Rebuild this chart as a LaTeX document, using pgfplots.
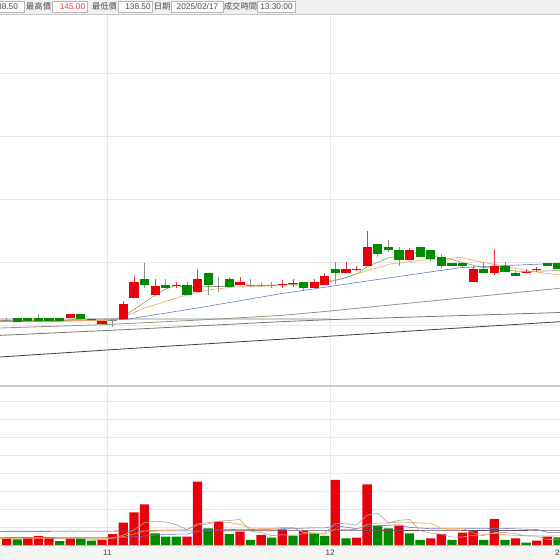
\documentclass[border=0pt]{standalone}
\usepackage{pgfplots}
\pgfplotsset{compat=1.18}
\usepackage{pgfplotstable}
\usepackage{fontspec}
\setmainfont{Liberation Sans}
\newfontfamily\cjk{Noto Sans CJK TC}
\definecolor{cred}{HTML}{E8000B}
\definecolor{cgreen}{HTML}{008A00}
\definecolor{gwick}{HTML}{7E9A7E}
\definecolor{gridc}{HTML}{E8E8E8}
\definecolor{ma5}{HTML}{7FA860}
\definecolor{ma10}{HTML}{F2A25A}
\definecolor{ma20}{HTML}{5B7FD0}
\definecolor{ma60}{HTML}{8C9A78}
\definecolor{ma120}{HTML}{767676}
\definecolor{ma240}{HTML}{3F3F3F}
\definecolor{vma5}{HTML}{A8A8A8}
\definecolor{vma10}{HTML}{F0A040}
\definecolor{vma20}{HTML}{6A7FD0}
\definecolor{vma60}{HTML}{7A4A5A}

% candles: k, body low, body height, wick low, wick length
\pgfplotstableread{
k lo h wl wh
5 101.06 0.64 101.06 0.64
8 100.21 0.42 100.21 0.42
10 100.90 2.39 100.90 2.96
11 104.24 2.63 104.24 3.59
13 104.76 1.48 104.76 2.49
15 106.22 0.12 105.92 0.86
17 105.29 1.96 105.29 3.61
21 106.27 0.55 106.27 1.35
25 106.41 0.12 105.83 1.31
26 106.57 0.12 106.08 1.22
28 105.83 0.95 105.83 1.47
29 106.35 1.48 106.35 1.86
31 108.30 0.54 108.30 1.65
32 108.79 0.12 108.62 0.79
33 109.41 3.02 109.41 5.56
37 110.32 1.58 110.32 1.85
43 106.87 1.97 106.87 2.54
45 108.30 1.11 107.94 4.08
48 108.36 0.12 108.21 0.63
49 108.79 0.12 108.46 0.79
}\redc
\pgfplotstableread{
k lo h wl wh
0 100.43 0.68 100.43 0.68
1 100.59 0.52 100.59 0.52
2 100.68 0.38 100.68 1.02
3 100.63 0.43 100.63 0.43
4 100.59 0.52 100.59 0.52
6 101.00 0.70 101.00 0.70
7 100.75 0.25 100.75 0.25
12 106.35 0.90 105.83 4.06
14 105.83 0.52 105.83 1.42
16 104.76 1.59 104.76 2.11
18 106.35 1.95 104.76 3.54
20 106.00 1.25 106.00 1.67
27 105.83 0.95 105.44 1.34
30 108.30 0.54 106.46 3.49
34 111.27 1.59 110.84 2.02
35 111.90 0.53 111.60 1.89
36 110.32 1.58 109.41 3.02
38 110.84 1.59 110.84 1.59
39 110.43 1.47 109.95 1.95
40 109.41 1.43 109.00 2.27
41 109.41 0.48 109.41 0.48
42 109.41 0.48 109.00 0.89
44 108.30 0.54 108.30 1.65
46 108.37 1.04 108.37 1.58
47 107.83 0.47 107.83 0.90
50 109.41 0.48 109.41 0.48
51 108.84 1.05 108.84 1.05
}\greenc
\pgfplotstableread{
k lo h wl wh
-1 100.66 0.10 100.48 0.63
9 100.74 0.10 99.73 1.11
19 106.14 0.10 105.29 2.38
22 106.19 0.10 105.98 1.32
23 106.19 0.10 106.03 0.64
24 106.30 0.10 105.87 0.91
}\grayc
% volume
\pgfplotstableread{
k v
-1 333
1 428
2 500
3 406
5 372
8 278
9 611
10 1239
11 1817
12 2261
16 461
17 3517
19 1294
21 739
23 556
25 872
27 778
30 3611
32 406
33 3372
36 1072
39 372
40 611
42 683
43 778
45 1444
47 372
49 239
50 461
}\volred
\pgfplotstableread{
k v
0 317
4 222
6 372
7 239
13 650
14 461
15 461
18 928
20 611
22 278
24 406
26 500
28 650
29 500
31 372
34 1072
35 928
37 650
38 278
41 278
44 278
46 278
48 128
51 428
}\volgreen

\begin{document}
\begin{tikzpicture}[x=1pt,y=1pt]
\path[use as bounding box] (0,0) rectangle (560,560);
\begin{scope}
\clip (0,0) rectangle (560,560);
\fill[white] (0,0) rectangle (560,560);
\fill[black!4] (0,0) rectangle (560,15);

% ---------------- price panel
\begin{axis}[at={(0pt,174pt)}, anchor=south west, scale only axis,
  width=560pt, height=372pt,
  xmin=-1.632, xmax=51.198, ymin=90.317, ymax=149.365,
  axis line style={draw=none}, tick style={draw=none},
  xtick={8.5,29.5}, ytick={100,110,120,130,140},
  xticklabels={}, yticklabels={},
  grid=major, major grid style={gridc, line width=0.7pt}]
% moving averages (behind the candles)
\addplot[black!18, line width=1.6pt] coordinates {(-1.632,100.95) (29.5,100.95)};
\addplot[ma240, line width=0.8pt] coordinates {(-1.632,94.92) (10,96.20) (29.5,98.22) (40,99.35) (51.198,100.52)};
\addplot[ma120, line width=0.8pt] coordinates {(-1.632,98.35) (10,99.25) (24.8,100.52) (29.5,100.85) (40,101.40) (51.198,101.98)};
\addplot[ma60, line width=0.8pt] coordinates {(-1.632,99.52) (8.5,100.08) (17.2,100.79) (24.8,101.51) (28.5,102.06) (40,103.97) (51.198,105.83)};
\addplot[ma20, line width=0.6pt] coordinates {(-1.632,100.56) (5,100.63) (10.3,100.90) (17,102.70) (24.8,104.95) (33,106.98) (41.8,109.10) (46,109.44) (51.198,109.79)};
\addplot[ma10, line width=0.6pt] coordinates {(-1.632,100.71) (8.5,100.71) (9.4,100.79) (12,102.70) (15.3,104.44) (18,105.56) (20.4,106.03) (24.8,106.24) (28.8,106.83) (30.5,107.30) (32.6,108.41) (35.2,109.68) (38.3,110.32) (41.8,110.71) (43.6,110.08) (46.8,109.05) (48.6,108.49) (51.198,107.94)};
\addplot[ma5, line width=0.6pt] coordinates {(-1.632,100.59) (0,100.59) (3,100.60) (4,100.59) (5,100.84) (6,100.92) (7,100.94) (8,100.94) (9,100.97) (10,101.29) (11,102.46) (12,103.59) (13,104.71) (14,105.71) (15,106.32) (16,105.89) (17,106.06) (18,106.10) (19,106.16) (20,106.11) (21,106.52) (22,106.32) (23,106.30) (24,106.33) (25,106.43) (26,106.38) (27,106.30) (28,106.41) (29,106.70) (30,107.06) (31,107.51) (32,108.11) (33,109.25) (34,109.94) (35,110.65) (36,110.95) (37,111.57) (38,111.25) (39,111.08) (40,110.59) (41,110.40) (42,109.90) (43,109.51) (44,109.08) (45,109.08) (46,108.87) (47,108.56) (48,108.46) (49,108.57) (50,108.57) (51,108.67) (51.198,108.67)};
% wicks
\addplot[draw=none, mark=none, forget plot, error bars/.cd, y dir=plus, y explicit, error mark=none,
  error bar style={line width=0.8pt, cred!80}] table[x=k, y=wl, y error plus=wh] {\redc};
\addplot[draw=none, mark=none, forget plot, error bars/.cd, y dir=plus, y explicit, error mark=none,
  error bar style={line width=0.8pt, gwick}] table[x=k, y=wl, y error plus=wh] {\greenc};
\addplot[draw=none, mark=none, forget plot, error bars/.cd, y dir=plus, y explicit, error mark=none,
  error bar style={line width=0.8pt, black!45}] table[x=k, y=wl, y error plus=wh] {\grayc};
% bodies
\addplot[draw=none, mark=none, forget plot, error bars/.cd, y dir=plus, y explicit, error mark=none,
  error bar style={line width=9.2pt, cred}] table[x=k, y=lo, y error plus=h] {\redc};
\addplot[draw=none, mark=none, forget plot, error bars/.cd, y dir=plus, y explicit, error mark=none,
  error bar style={line width=9.2pt, cgreen}] table[x=k, y=lo, y error plus=h] {\greenc};
\addplot[draw=none, mark=none, forget plot, error bars/.cd, y dir=plus, y explicit, error mark=none,
  error bar style={line width=9.2pt, black!45}] table[x=k, y=lo, y error plus=h] {\grayc};
\end{axis}

% ---------------- volume panel
\begin{axis}[at={(0pt,15pt)}, anchor=south west, scale only axis,
  width=560pt, height=157pt,
  xmin=-1.632, xmax=51.198, ymin=0, ymax=8722,
  axis line style={draw=none}, tick style={draw=none},
  xtick={8.5,29.5}, ytick={1000,2000,...,8000},
  xticklabels={}, yticklabels={},
  grid=major, major grid style={gridc, line width=0.7pt}]
\addplot[ybar, bar width=9.3pt, bar shift=0pt, fill=cred, draw=none, forget plot] table[x=k, y=v] {\volred};
\addplot[ybar, bar width=9.3pt, bar shift=0pt, fill=cgreen, draw=none, forget plot] table[x=k, y=v] {\volgreen};
\addplot[vma60, line width=0.6pt] coordinates {(-1.632,760) (20,790) (40,810) (51.198,800)};
\addplot[vma20, line width=0.6pt] coordinates {(-1.632,420) (10,406) (14,595) (16,606) (17,765) (18,794) (19,842) (20,856) (21,872) (22,861) (23,868) (24,878) (25,903) (26,909) (27,936) (28,955) (29,949) (30,1068) (31,995) (32,903) (33,1039) (34,1069) (35,1093) (36,1123) (37,980) (38,947) (39,901) (40,901) (41,878) (42,898) (43,909) (44,903) (45,932) (46,921) (47,900) (48,874) (49,861) (50,704) (51,706) (51.198,706)};
\addplot[vma10, line width=0.6pt] coordinates {(-1.632,360) (8,347) (9,375) (10,467) (11,606) (12,782) (13,806) (14,830) (15,839) (16,848) (17,1176) (18,1241) (19,1309) (20,1246) (21,1138) (22,940) (23,931) (24,925) (25,966) (26,970) (27,696) (28,668) (29,589) (30,889) (31,852) (32,865) (33,1147) (34,1213) (35,1219) (36,1276) (37,1263) (38,1226) (39,1213) (40,913) (41,904) (42,932) (43,672) (44,593) (45,644) (46,565) (47,537) (48,522) (49,509) (50,494) (51,509) (51.198,509)};
\addplot[vma5, line width=0.6pt] coordinates {(-1.632,400) (3,397) (4,375) (5,386) (6,374) (7,322) (8,297) (9,374) (10,548) (11,837) (12,1241) (13,1316) (14,1286) (15,1130) (16,859) (17,1110) (18,1166) (19,1332) (20,1362) (21,1418) (22,770) (23,696) (24,518) (25,570) (26,522) (27,622) (28,641) (29,660) (30,1208) (31,1182) (32,1108) (33,1652) (34,1767) (35,1230) (36,1370) (37,1419) (38,800) (39,660) (40,597) (41,438) (42,444) (43,544) (44,526) (45,692) (46,692) (47,630) (48,500) (49,492) (50,296) (51,326) (51.198,326)};
\end{axis}

% panel borders
\draw[black!22, line width=1.2pt] (0,174) -- (560,174);
\draw[black!25, line width=0.8pt] (0,15) -- (560,15);

% x labels
\node[font=\fontsize{8}{9}\selectfont, text=black!75] at (107.4,7) {11};
\node[font=\fontsize{8}{9}\selectfont, text=black!75] at (330,7) {12};
\node[font=\fontsize{8}{9}\selectfont, text=black!75] at (564,7) {2025};

% header bar
\fill[black!6] (0,546) rectangle (560,560);
\draw[black!22, line width=0.8pt] (0,546) -- (560,546);
\foreach \a/\b in {-5/24, 52.7/87.3, 118.3/152.7, 171.7/223.3, 257.3/295.7}
  {\filldraw[fill=white, draw=black!28, line width=0.5pt] (\a,548.2) rectangle (\b,558.8);}
\node[anchor=east, font=\fontsize{8.3}{9}\selectfont, text=black!70] at (21.5,553.5) {38.50};
\node[font=\cjk\fontsize{8.3}{9}\selectfont, text=black!70] at (38.6,553.5) {最高價};
\node[font=\fontsize{8.3}{9}\selectfont, text={rgb,255:red,240;green,60;blue,60}] at (72.5,553.5) {145.00};
\node[font=\cjk\fontsize{8.3}{9}\selectfont, text=black!70] at (104.5,553.5) {最低價};
\node[font=\fontsize{8.3}{9}\selectfont, text=black!70] at (138,553.5) {138.50};
\node[font=\cjk\fontsize{8.3}{9}\selectfont, text=black!70] at (162.2,553.5) {日期};
\node[font=\fontsize{8.3}{9}\selectfont, text=black!70] at (197.5,553.5) {2025/02/17};
\node[font=\cjk\fontsize{8.3}{9}\selectfont, text=black!70] at (240.5,553.5) {成交時間};
\node[font=\fontsize{8.3}{9}\selectfont, text=black!70] at (276.5,553.5) {13:30:00};
\end{scope}
\end{tikzpicture}
\end{document}
